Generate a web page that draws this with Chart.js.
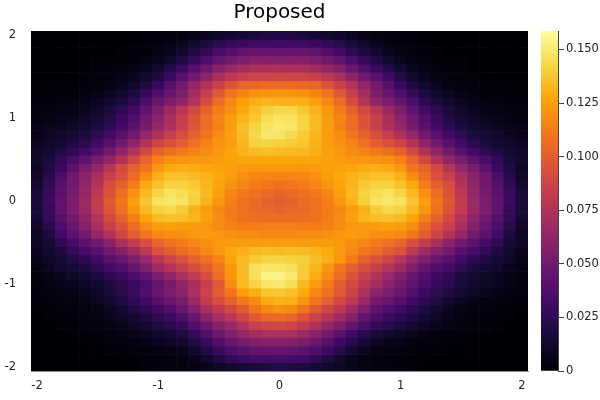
<!DOCTYPE html>
<html>
<head>
<meta charset="utf-8">
<title>Proposed</title>
<script src="https://cdn.jsdelivr.net/npm/chart.js@4"></script>
<style>
  body { margin: 0; background: #fff; }
  #wrap { position: relative; width: 600px; height: 400px; }
  canvas { position: absolute; top: 0; }
  #heat { left: 0; }
  #bar { left: 535px; }
</style>
</head>
<body>
<div id="wrap">
  <canvas id="heat" width="535" height="400"></canvas>
  <canvas id="bar" width="65" height="400"></canvas>
</div>
<script>
const xCells = ['-2','-1.9','-1.8','-1.7','-1.6','-1.5','-1.4','-1.3','-1.2','-1.1','-1','-0.9','-0.8','-0.7','-0.6','-0.5','-0.4','-0.3','-0.2','-0.1','0','0.1','0.2','0.3','0.4','0.5','0.6','0.7','0.8','0.9','1','1.1','1.2','1.3','1.4','1.5','1.6','1.7','1.8','1.9','2'];
const yCells = [2,1.9,1.8,1.7,1.6,1.5,1.4,1.3,1.2,1.1,1,0.9,0.8,0.7,0.6,0.5,0.4,0.3,0.2,0.1,0,-0.1,-0.2,-0.3,-0.4,-0.5,-0.6,-0.7,-0.8,-0.9,-1,-1.1,-1.2,-1.3,-1.4,-1.5,-1.6,-1.7,-1.8,-1.9,-2];
const xTickLabels = ['-2','-1','0','1','2'];
const yTickValues = [-2,-1,0,1,2];
const barTickValues = [0,0.025,0.05,0.075,0.1,0.125,0.15];
const maxDensity = 0.1586;

// density, in thousandths, top row first
const density = [
  [0,0,0,0,0,0,0,0,0,1,2,3,4,6,8,11,13,15,17,19,20,19,17,15,13,11,8,6,4,3,2,1,0,0,0,0,0,0,0,0,0],
  [0,0,0,0,0,0,0,0,1,2,3,5,8,13,18,23,27,29,31,31,31,31,31,29,26,22,17,12,8,5,3,2,1,0,0,0,0,0,0,0,0],
  [0,0,0,0,0,0,0,1,1,2,5,8,13,20,26,34,39,43,45,45,45,45,45,43,38,32,25,18,12,8,5,3,1,1,0,0,0,0,0,0,0],
  [0,0,0,0,0,1,1,1,2,5,8,13,20,28,36,45,51,55,58,58,58,58,58,54,50,44,36,28,20,13,8,5,3,1,1,1,0,0,0,0,0],
  [0,0,0,0,0,1,2,3,5,8,13,20,29,40,49,58,65,70,73,73,73,73,72,68,63,57,47,38,29,21,14,8,5,3,2,1,0,0,0,0,0],
  [0,0,0,0,1,2,3,5,8,13,19,29,40,50,61,72,80,85,87,88,88,88,87,85,79,72,61,50,41,31,20,13,8,5,3,2,1,0,0,0,0],
  [1,1,1,1,2,3,5,8,12,19,28,40,51,63,76,86,96,103,105,106,106,106,105,103,96,86,76,63,51,40,28,19,12,8,5,3,2,1,1,1,1],
  [1,1,2,2,4,6,9,13,18,27,37,46,55,70,84,98,109,116,120,121,122,121,120,116,109,98,84,70,55,46,37,27,18,13,9,6,4,2,2,1,1],
  [2,2,3,4,6,9,13,18,25,36,46,54,62,76,92,106,117,125,130,132,131,131,130,125,117,106,92,76,62,54,46,36,25,18,13,9,6,4,3,2,2],
  [3,4,5,6,8,12,17,24,32,43,55,66,78,90,102,112,120,128,135,140,143,143,138,131,122,112,102,90,78,66,55,43,32,24,17,12,8,6,5,4,3],
  [4,5,7,8,11,15,21,29,38,50,60,72,84,96,106,116,124,132,138,145,148,147,141,134,124,116,106,96,84,72,60,50,38,29,21,15,11,8,7,5,4],
  [6,7,9,11,13,18,25,32,42,52,64,74,85,97,107,114,124,135,142,147,150,148,142,134,124,114,106,96,85,74,64,52,42,32,25,18,13,11,9,7,6],
  [7,9,12,15,18,25,32,41,50,63,74,84,93,102,110,118,125,134,143,149,148,144,139,132,124,118,110,102,93,84,74,63,50,41,32,25,18,15,12,9,7],
  [9,12,14,18,23,31,40,50,62,76,88,95,100,108,115,121,124,132,141,142,140,139,137,131,124,120,115,108,100,95,88,76,62,50,40,31,23,18,14,12,9],
  [11,14,19,25,31,40,50,62,76,90,102,107,111,115,118,122,127,131,134,135,134,133,133,130,125,122,118,115,111,107,102,90,76,62,50,40,31,25,19,14,11],
  [12,17,26,34,43,53,64,76,90,103,114,120,121,122,122,124,126,127,127,127,127,127,127,127,125,124,122,122,121,120,114,103,90,76,64,53,43,34,26,17,12],
  [10,19,30,42,54,64,77,90,102,110,122,128,130,129,127,126,125,123,122,122,122,122,122,123,125,126,127,129,130,128,122,110,102,90,77,64,54,42,30,19,10],
  [12,22,36,50,60,72,85,94,106,118,130,136,136,134,131,128,124,119,116,115,115,115,116,119,124,128,131,134,136,136,130,118,106,94,85,72,60,50,36,22,12],
  [14,25,40,50,63,76,92,101,112,128,136,141,141,138,132,127,121,116,112,110,108,110,112,116,121,127,132,138,141,141,136,128,112,101,92,76,63,50,40,25,14],
  [16,28,42,52,65,80,95,107,120,133,142,147,145,141,133,125,116,111,108,105,103,105,108,111,116,125,133,141,145,147,142,133,120,107,95,80,65,52,42,28,16],
  [17,30,44,54,67,83,98,110,125,137,147,149,147,140,131,122,113,108,105,102,100,102,105,108,113,122,131,140,147,149,147,137,125,110,98,83,67,54,44,30,17],
  [16,28,43,54,66,82,96,108,122,133,141,143,139,130,124,117,112,108,105,104,102,104,105,108,112,117,124,130,139,143,141,133,122,108,96,82,66,54,43,28,16],
  [14,26,40,50,62,76,90,102,113,127,134,136,135,132,125,118,112,108,107,106,106,106,107,108,112,118,125,132,135,136,134,127,113,102,90,76,62,50,40,26,14],
  [12,22,36,47,58,72,85,95,106,118,124,125,124,123,122,118,114,112,112,113,113,113,112,112,114,118,122,123,124,125,124,118,106,95,85,72,58,47,36,22,12],
  [10,18,32,42,52,64,76,88,100,110,117,119,120,122,123,122,120,118,118,117,117,117,118,118,120,122,123,122,120,119,117,110,100,88,76,64,52,42,32,18,10],
  [10,15,24,32,42,50,60,72,83,93,103,108,112,116,119,122,123,124,124,124,124,124,124,124,123,122,119,116,112,108,103,93,83,72,60,50,42,32,24,15,10],
  [9,13,18,26,33,40,50,58,68,80,95,100,106,111,117,122,128,130,133,135,134,135,134,132,128,122,117,111,106,100,95,80,68,58,50,40,33,26,18,13,9],
  [7,11,15,20,25,32,40,46,55,65,78,88,95,102,108,115,127,133,139,142,142,141,140,135,130,122,112,102,95,88,78,65,55,46,40,32,25,20,15,11,7],
  [5,8,12,15,18,24,32,37,45,55,68,76,84,92,100,109,122,134,146,148,148,146,139,132,122,110,100,92,84,76,68,55,45,37,32,24,18,15,12,8,5],
  [4,6,9,11,14,18,25,29,36,43,55,64,72,82,92,106,122,134,146,153,154,150,139,129,118,106,96,86,76,66,56,47,38,30,25,18,14,11,9,6,4],
  [3,5,7,8,10,13,18,24,29,36,45,53,62,72,84,97,118,133,142,148,149,145,133,123,112,100,90,80,70,60,51,43,35,28,23,18,13,10,8,6,4],
  [2,3,5,6,8,11,16,22,29,38,47,54,60,73,87,100,110,124,130,137,138,135,128,117,108,99,87,74,60,54,47,38,30,24,19,14,10,8,6,4,3],
  [1,2,3,4,6,9,13,19,25,32,40,47,53,66,83,93,102,111,118,128,131,130,121,110,101,90,80,65,52,46,39,32,25,19,13,9,6,4,3,2,1],
  [1,1,2,3,4,6,9,14,19,25,31,38,46,57,72,81,90,99,110,117,120,118,110,98,88,80,68,56,44,37,31,25,19,14,9,6,4,3,2,1,1],
  [0,1,1,2,3,4,7,10,14,19,24,30,36,46,60,71,79,88,98,104,105,103,95,86,77,68,57,45,35,30,24,19,14,10,7,4,3,2,1,1,0],
  [0,0,1,1,2,3,5,7,10,13,18,22,27,37,48,57,65,75,84,88,89,87,82,74,64,54,45,35,26,22,18,13,10,7,5,3,2,1,1,0,0],
  [0,0,0,1,1,2,3,5,7,9,12,15,18,27,38,48,56,64,70,73,73,72,66,59,51,41,31,22,16,13,10,7,5,3,2,2,1,1,0,0,0],
  [0,0,0,0,1,1,2,3,4,6,8,10,13,19,28,38,46,52,56,58,58,57,54,48,40,30,22,15,9,7,6,4,3,2,1,1,1,0,0,0,0],
  [0,0,0,0,0,0,1,1,2,3,4,5,7,12,19,28,36,40,44,45,45,45,42,38,30,22,15,8,5,4,3,2,1,1,0,0,0,0,0,0,0],
  [0,0,0,0,0,0,0,1,1,2,2,3,4,7,12,19,26,30,32,33,33,33,31,26,19,12,7,4,3,2,2,1,1,0,0,0,0,0,0,0,0],
  [0,0,0,0,0,0,0,0,0,1,2,3,4,5,7,10,13,15,17,19,20,19,17,15,13,10,7,5,4,3,2,1,0,0,0,0,0,0,0,0,0]
];

const INFERNO = [[0,0,4],[22,11,57],[66,10,104],[106,23,110],[147,38,103],[188,55,84],[221,81,58],[243,120,25],[252,165,10],[246,215,70],[252,255,164]];

function inferno(t) {
  const p = Math.min(Math.max(t, 0), 1) * (INFERNO.length - 1);
  const k = Math.min(Math.floor(p), INFERNO.length - 2);
  const f = p - k;
  const c = INFERNO[k].map((v, n) => Math.round(v + (INFERNO[k + 1][n] - v) * f));
  return `rgb(${c[0]},${c[1]},${c[2]})`;
}

Chart.defaults.font.family = "'DejaVu Sans', sans-serif";
Chart.defaults.font.size = 11.5;
Chart.defaults.color = '#222';
Chart.defaults.animation = false;

// one floating bar per cell, one dataset per row
const cellDatasets = yCells.map((y, j) => ({
  data: xCells.map(() => [y - 0.05, y + 0.05]),
  backgroundColor: density[j].map(v => inferno(v / 1000 / maxDensity)),
  borderWidth: 0,
  grouped: false,
  barPercentage: 1,
  categoryPercentage: 1
}));

new Chart(document.getElementById('heat'), {
  type: 'bar',
  data: { labels: xCells, datasets: cellDatasets },
  options: {
    responsive: false,
    layout: { padding: { right: 7 } },
    plugins: {
      legend: { display: false },
      tooltip: { enabled: false },
      title: {
        display: true,
        text: 'Proposed',
        fullSize: false,
        color: '#000',
        font: { size: 20, weight: 'normal' },
        padding: { top: 1, bottom: 6 }
      }
    },
    scales: {
      x: {
        grid: { display: false },
        border: { color: '#888' },
        afterFit: s => { s.height = 29; },
        ticks: {
          autoSkip: false,
          maxRotation: 0,
          padding: 0,
          callback(v) {
            const label = this.getLabelForValue(v);
            return xTickLabels.includes(label) ? label : null;
          }
        }
      },
      y: {
        type: 'linear',
        min: -2.05,
        max: 2.05,
        grid: { display: false },
        border: { color: '#888' },
        afterBuildTicks: s => { s.ticks = yTickValues.map(value => ({ value })); },
        afterFit: s => { s.width = 31; },
        ticks: { padding: 7, callback: v => String(v) }
      }
    }
  }
});

// colour bar
new Chart(document.getElementById('bar'), {
  type: 'bar',
  data: {
    labels: [''],
    datasets: [{
      data: [[0, maxDensity]],
      borderWidth: 0,
      barPercentage: 1,
      categoryPercentage: 1,
      backgroundColor(ctx) {
        const area = ctx.chart.chartArea;
        if (!area) return '#000';
        const g = ctx.chart.ctx.createLinearGradient(0, area.bottom, 0, area.top);
        INFERNO.forEach((c, k) => g.addColorStop(k / (INFERNO.length - 1), `rgb(${c[0]},${c[1]},${c[2]})`));
        return g;
      }
    }]
  },
  options: {
    responsive: false,
    layout: { padding: { left: 6, top: 31, bottom: 29 } },
    plugins: { legend: { display: false }, tooltip: { enabled: false } },
    scales: {
      x: { display: false },
      y: {
        position: 'right',
        min: 0,
        max: maxDensity,
        border: { color: '#444' },
        grid: { drawOnChartArea: false, drawTicks: true, tickLength: 6, color: '#444' },
        afterBuildTicks: s => { s.ticks = barTickValues.map(value => ({ value })); },
        afterFit: s => { s.width = 42; },
        ticks: { padding: 2, callback: v => (v === 0 ? '0' : v.toFixed(3)) }
      }
    }
  }
});
</script>
</body>
</html>
